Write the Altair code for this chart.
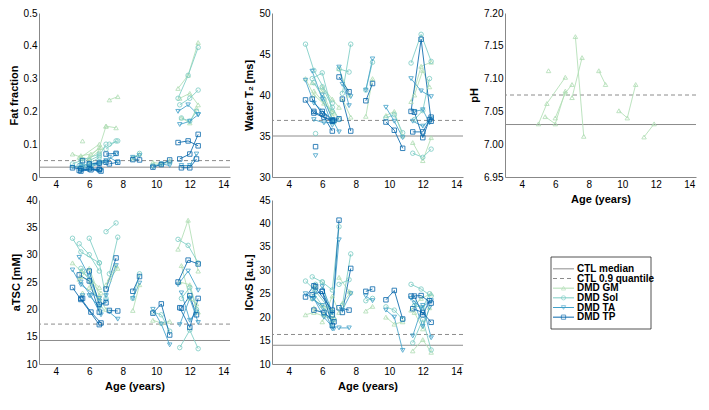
import altair as alt
import pandas as pd

# ---------------- data ----------------
subjects = ["A", "B", "C", "D", "E", "F", "G", "H", "I", "J", "K", "L"]
ages = [[5.0, 5.5, 6.6], [5.4, 6.0, 6.6], [5.6], [6.0, 6.6, 7.0], [5.5, 6.1, 6.7],
        [7.0, 7.6], [7.2, 7.7], [8.6, 9.0], [9.8, 10.3, 10.8],
        [11.3, 11.9, 12.5], [11.4, 12.0, 12.5], [11.5, 12.0, 12.4]]
muscles = ["GM", "Sol", "TA", "TP"]

# Fat fraction
ff_gm = [[0.07, 0.06, 0.10], [0.06, 0.055, 0.08], [0.11], [0.06, 0.09, 0.155], [0.065, 0.07, 0.09],
         [0.155, 0.15], [0.235, 0.245], [0.06, 0.07], [0.045, 0.04, 0.05],
         [0.27, 0.31, 0.41], [0.24, 0.255, 0.22], [0.18, 0.165, 0.21]]
ff_sol = [[0.04, 0.05, 0.07], [0.035, 0.04, 0.06], [0.045], [0.05, 0.065, 0.10], [0.03, 0.035, 0.045],
          [0.085, 0.11], [0.10, 0.11], [0.055, 0.072], [0.035, 0.04, 0.045],
          [0.24, 0.31, 0.395], [0.22, 0.24, 0.265], [0.18, 0.17, 0.20]]
ff_ta = [[0.03, 0.035, 0.04], [0.025, 0.03, 0.04], [0.03], [0.04, 0.045, 0.05], [0.02, 0.025, 0.02],
         [0.045, 0.07], [0.06, 0.045], [0.06, 0.065], [0.03, 0.04, 0.035],
         [0.20, 0.22, 0.19], [0.16, 0.17, 0.19], [0.035, 0.035, 0.07]]
ff_tp = [[0.028, 0.025, 0.022], [0.02, 0.025, 0.024], [0.05], [0.04, 0.042, 0.045], [0.018, 0.022, 0.018],
         [0.07, 0.072], [0.04, 0.045], [0.053, 0.052], [0.03, 0.038, 0.052],
         [0.105, 0.11, 0.095], [0.055, 0.07, 0.13], [0.028, 0.028, 0.055]]

# Water T2
t2_gm = [[42, 40, 38], [41.5, 40.5, 37.5], [None], [41, 39.5, 38.5], [40.5, 39, 37.8],
         [43.2, 40], [39.5, 37.3], [37.4, 42], [37.5, 38, 35],
         [39.2, 43.5, 44], [34.2, 32, 34.8], [40, 43, 41]]
t2_sol = [[46.2, 43, 39], [42, 42.7, 38], [35.3], [41, 38.5, 37], [41.5, 39.5, 36.7],
          [43.2, 42.8], [40.2, 46.2], [40.6, 44], [37.2, 37.6, 35.4],
          [43.9, 47.4, 44.1], [32.9, 32.4, 33.4], [37, 38.1, 42]]
t2_ta = [[41.8, 39, 37], [42.9, 39.5, 36.3], [32.6], [40, 37, 35.5], [37, 36.6, 36.7],
         [43.4, 38.7], [41.3, 39.8], [40.6, 44.4], [38.5, 36.8, 34.8],
         [42, 40.5, 39.8], [36.8, 36.2, 37.1], [38, 38.2, 36.6]]
t2_tp = [[39.4, 37.8, 36.8], [39.5, 37.7, 35.6], [33.7], [38, 36.9, 37.1], [38, 37.3, 36.9],
         [42.2, 40.4], [39.5, 35.6], [39.3, 41.4], [36.7, 35.7, 33.5],
         [38, 46.8, 36.8], [35.5, 35.5, 37.3], [37.9, 34.8, 37]]

# pH (GM only)
ph_gm = [[7.031, 7.062, 7.102], [7.042, 7.031, 7.081], [7.112], [7.040, 7.078, 7.091], [None],
         [7.071, 7.132], [7.164, 7.012], [7.112, 7.091], [7.051, 7.040, 7.091],
         [7.011, 7.031, None], [None], [None]]

# aTSC
tsc_gm = [[28.5, 27, 24], [25.5, 27.5, 22.5], [23], [24, 22, 20], [26, 25, 23],
          [24.5, 28], [25.5, 27.5], [19.8, 24.5], [18, 17.5, 17.8],
          [31, 36.3, 27], [25, 24.5, 19.5], [28, 22, 21]]
tsc_sol = [[33, 30.5, 28.5], [32, 30, 27], [27], [33, 28.5, 22], [27.5, 25, 20],
           [34.2, 35.8], [26.5, 33.2], [22, 26.5], [19.5, 19, 16],
           [32.8, 31.7, 28.5], [13, 16.2, 12.8], [22, 24, 20]]
tsc_ta = [[27.2, 24.5, 22], [29.5, 26, 21.5], [22.5], [22.5, 20.5, 21.5], [25, 22.5, 19],
          [22.5, 28], [19.5, 18.2], [22, 24.8], [20, 17.3, 13.5],
          [24.5, 27, 23.5], [17.2, 22, 17.6], [23, 18, 19.5]]
tsc_tp = [[24, 21.8, 17.2], [26.3, 25.2, 19.5], [22], [27, 20.9, 21.2], [22, 19.5, 17.5],
          [23.7, 29.4], [19.8, 19.7], [23.3, 26.0], [19.3, 21, 15.3],
          [25, 29, 28.3], [20.3, 16.7, 22], [20.2, 22.5, 19]]

# ICwS
icws_gm = [[20.5, 21, 19.5], [24, 22.5, 21.5], [26.5], [19, 24.5, 21], [22, 20.5, 20],
           [28.5, 25.5], [23, 25.3], [21.3, 22.3], [20, 18.5, 19],
           [21.5, 24, 25], [12.8, 15.2, 12.5], [21, 17.5, 22]]
icws_sol = [[27.7, 26, 21], [28.6, 27.5, 18.5], [27], [27.5, 25.8, 39.3], [25, 22, 19.5],
            [27, 28], [22.5, 33.5], [23.5, 24], [22.2, 21.5, 19.5],
            [27, 26, 24.5], [14.5, 19.5, 13], [22.5, 22, 25]]
icws_ta = [[25, 24, 19], [23.8, 22.5, 17.5], [25.5], [26.5, 21, 36.5], [24, 20, 17.5],
           [17.7, 17.7], [21.5, 25], [24.5, 23.5], [21.5, 20, 12.9],
           [24, 22, 23.5], [16, 22.5, 15.6], [23, 18, 22]]
icws_tp = [[24.3, 26.7, 21.5], [24.8, 25.5, 18.2], [26.5], [25.5, 20.5, 40.7], [21.5, 21, 19],
           [22, 21.5], [21, 30.4], [25.5, 26], [23.7, 25.7, 19.6],
           [24.5, 24.6, 23], [21.8, 21, 18.9], [24.5, 20.5, 23.5]]

# control reference values: (median, 0.9 quantile)
ctl_ff = [0.03, 0.05]
ctl_t2 = [35.0, 36.9]
ctl_ph = [7.03, 7.075]
ctl_tsc = [14.3, 17.3]
ctl_icws = [14.0, 16.3]

legend_labels = ["CTL median", "CTL 0.9 quantile", "DMD GM", "DMD Sol", "DMD TA", "DMD TP"]
kinds = ["median", "q90", "GM", "Sol", "TA", "TP"]

# ---------------- styles ----------------
colors = ["#8c8c8c", "#8c8c8c", "#b0deb4", "#7bccc4", "#43a2ca", "#0868ac"]
shapes = ["circle", "circle", "triangle-up", "circle", "triangle-down", "square"]
dashes = [[1, 0], [4, 3], [1, 0], [1, 0], [1, 0], [1, 0]]
color_scale = alt.Scale(domain=kinds, range=colors)
shape_scale = alt.Scale(domain=kinds, range=shapes)
dash_scale = alt.Scale(domain=kinds, range=dashes)

W, H = 191, 164
FONT = "Liberation Sans"
NOVIEW = alt.ViewConfig(stroke="transparent", strokeWidth=0, fill="transparent")


def build_df(series):
    rows = []
    for m in muscles:
        if m not in series:
            continue
        vals = series[m]
        for s, a_list, v_list in zip(subjects, ages, vals):
            for a, v in zip(a_list, v_list):
                if v is None:
                    continue
                rows.append({"muscle": m, "subject": s, "age": a, "value": v, "grp": s + "-" + m})
    return pd.DataFrame(rows)


def panel(series, ctl, ytitle, ydom, yticks, label_expr, xtitle):
    d = build_df(series)
    ref = pd.DataFrame({"kind": ["median", "q90"], "value": ctl})
    xaxis = alt.Axis(values=[4, 6, 8, 10, 12, 14], format="d", grid=False, ticks=False,
                     title=xtitle if xtitle else "")
    xenc = alt.X("age:Q", scale=alt.Scale(domain=[3, 14.4], nice=False), axis=xaxis)
    yenc = alt.Y("value:Q", scale=alt.Scale(domain=ydom, nice=False, zero=False),
                 axis=alt.Axis(values=yticks, title=ytitle, labelExpr=label_expr,
                               grid=False, ticks=False))
    color = alt.Color("muscle:N", scale=color_scale, legend=None)
    rules = alt.Chart(ref).mark_rule(color="#8c8c8c", strokeWidth=1).encode(
        y=yenc,
        strokeDash=alt.StrokeDash("kind:N", scale=dash_scale, legend=None),
    )
    lines = alt.Chart(d).mark_line(strokeWidth=1, opacity=0.85).encode(
        x=xenc, y=yenc, color=color, detail="grp:N", order="age:Q")
    pts = alt.Chart(d).mark_point(filled=False, size=20, strokeWidth=0.9, opacity=0.9).encode(
        x=xenc, y=yenc, color=color,
        shape=alt.Shape("muscle:N", scale=shape_scale, legend=None))
    return alt.layer(rules, lines, pts).properties(width=W, height=H, view=NOVIEW)


p_ff = panel({"GM": ff_gm, "Sol": ff_sol, "TA": ff_ta, "TP": ff_tp}, ctl_ff, "Fat fraction",
             [0, 0.5], [0, 0.1, 0.2, 0.3, 0.4, 0.5],
             "datum.value == 0 ? '0' : format(datum.value, '.1f')", None)
p_t2 = panel({"GM": t2_gm, "Sol": t2_sol, "TA": t2_ta, "TP": t2_tp}, ctl_t2, "Water T\u2082 [ms]",
             [30, 50], [30, 35, 40, 45, 50], "format(datum.value, 'd')", None)
p_ph = panel({"GM": ph_gm}, ctl_ph, "pH",
             [6.95, 7.20], [6.95, 7.0, 7.05, 7.1, 7.15, 7.2], "format(datum.value, '.2f')", "Age (years)")
p_tsc = panel({"GM": tsc_gm, "Sol": tsc_sol, "TA": tsc_ta, "TP": tsc_tp}, ctl_tsc, "aTSC [mM]",
              [10, 40], [10, 15, 20, 25, 30, 35, 40], "format(datum.value, 'd')", "Age (years)")
p_icws = panel({"GM": icws_gm, "Sol": icws_sol, "TA": icws_ta, "TP": icws_tp}, ctl_icws, "ICwS [a.u.]",
               [10, 45], [10, 15, 20, 25, 30, 35, 40, 45], "format(datum.value, 'd')", "Age (years)")

# ---------------- legend panel ----------------
leg = pd.DataFrame({"label": legend_labels, "kind": kinds})
leg_dmd = leg[leg["kind"].isin(muscles)]
yleg = alt.Y("label:N", axis=None,
             scale=alt.Scale(domain=legend_labels, range=[64, 122], padding=0))
box = alt.Chart(pd.DataFrame({"b": [1]})).mark_rect(
    fill="white", stroke="#262626", strokeWidth=0.8).encode(
    x=alt.value(46), x2=alt.value(146), y=alt.value(57), y2=alt.value(129))
leg_lines = alt.Chart(leg).mark_rule(strokeWidth=1).encode(
    x=alt.value(48), x2=alt.value(69), y=yleg,
    color=alt.Color("kind:N", scale=color_scale, legend=None),
    strokeDash=alt.StrokeDash("kind:N", scale=dash_scale, legend=None))
leg_pts = alt.Chart(leg_dmd).mark_point(filled=False, size=18, strokeWidth=0.9).encode(
    x=alt.value(58.5), y=yleg,
    color=alt.Color("kind:N", scale=color_scale, legend=None),
    shape=alt.Shape("kind:N", scale=shape_scale, legend=None))
leg_text = alt.Chart(leg).mark_text(align="left", baseline="middle", font=FONT, fontSize=10,
                                    fontWeight="bold", color="#000000").encode(
    x=alt.value(72), y=yleg, text="label:N")
legend_panel = alt.layer(box, leg_lines, leg_pts, leg_text).properties(width=W, height=H, view=NOVIEW)

chart = alt.concat(p_ff, p_t2, p_ph, p_tsc, p_icws, legend_panel, columns=3,
                   spacing={"row": 23, "column": 42}, bounds="flush",
                   padding={"left": 0, "top": 0, "right": 4, "bottom": 10}).configure_view(
    strokeWidth=0, stroke="transparent"
).configure_axis(
    grid=False,
    ticks=False,
    domainColor="#262626",
    domainWidth=1,
    labelFont=FONT,
    labelFontSize=10.5,
    labelFontWeight="bold",
    labelColor="#262626",
    labelPadding=3,
    titleFont=FONT,
    titleFontSize=12,
    titleFontWeight="bold",
    titleColor="#262626",
    titlePadding=5,
).configure(background="white")

chart.save("out.html", embed_options={"renderer": "svg", "actions": False})
